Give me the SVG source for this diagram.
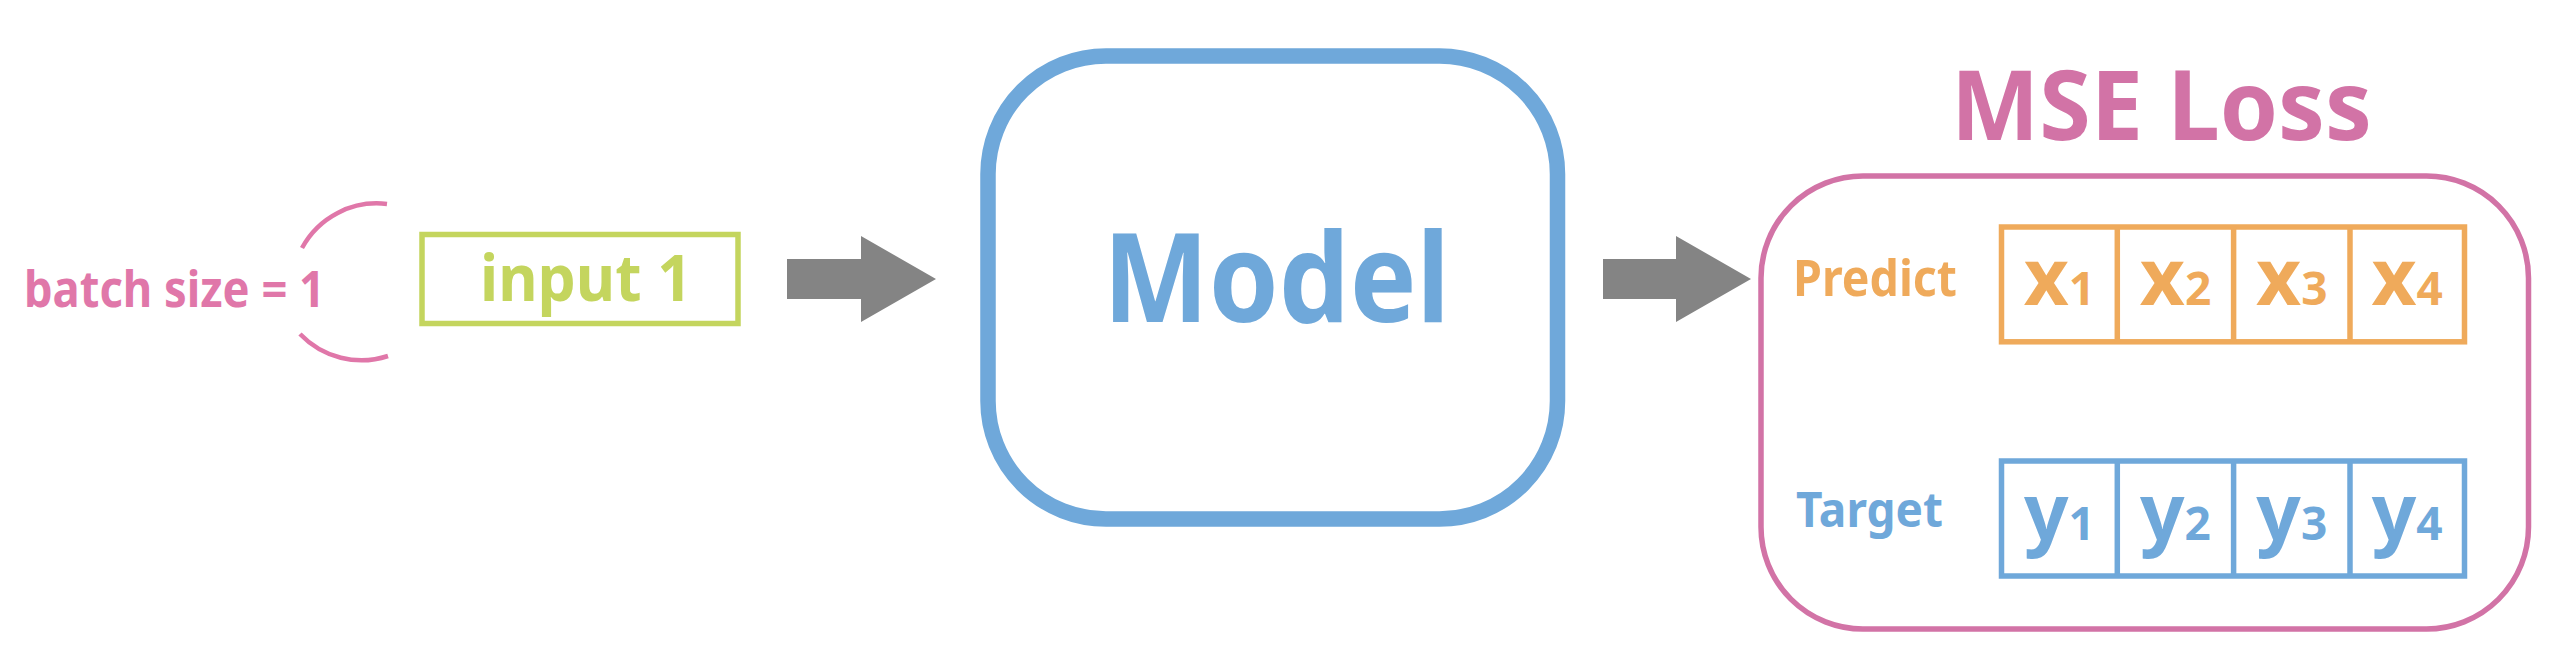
<svg xmlns="http://www.w3.org/2000/svg" width="2550" height="666" viewBox="0 0 2550 666">
<style>
  text { font-family: "Noto Sans", "Open Sans", sans-serif; font-weight: bold; }
  .pink { fill: #E077A9; }
  .green { fill: #C4D55E; }
  .blue { fill: #6FA8DA; }
  .orange { fill: #EFAA5B; }
  .mse { fill: #D273A6; }
  .arrow { fill: #848484; }
  .cellx { font-size: 78px; fill: #EFAA5B; }
  .celly { font-size: 78px; fill: #6FA8DA; }
  .sub { font-size: 46px; }
  .gridx { fill: none; stroke: #EFAA5B; stroke-width: 5.5; }
  .gridy { fill: none; stroke: #6FA8DA; stroke-width: 5.5; }
</style>
<rect width="2550" height="666" fill="#FFFFFF"/>

<g id="batch-label">
  <text x="24" y="307" font-size="50" textLength="301" lengthAdjust="spacingAndGlyphs" class="pink">batch size = 1</text>
  <path d="M302,248 A85,85 0 0 1 387,204" fill="none" stroke="#E077A9" stroke-width="4.5"/>
  <path d="M300,334 A85,85 0 0 0 388,356" fill="none" stroke="#E077A9" stroke-width="4.5"/>
</g>

<g id="input-node">
  <rect x="422" y="234.5" width="316" height="89" fill="none" stroke="#C4D55E" stroke-width="5.5"/>
  <text x="480" y="301" font-size="65" textLength="212" lengthAdjust="spacingAndGlyphs" class="green">input 1</text>
</g>

<g id="model-node">
  <rect x="988" y="56" width="569.5" height="463" rx="118" ry="118" fill="none" stroke="#6FA8DA" stroke-width="15.5"/>
  <text x="1103" y="322" font-size="124" textLength="347" lengthAdjust="spacingAndGlyphs" class="blue">Model</text>
</g>

<g id="loss-node">
  <text x="1951" y="140" font-size="96" textLength="421" lengthAdjust="spacingAndGlyphs" class="mse">MSE Loss</text>
  <rect x="1761" y="176" width="767.5" height="453" rx="102" ry="102" fill="none" stroke="#D273A6" stroke-width="5.5"/>
  <g id="predict-row">
    <text x="1793" y="296" font-size="50" textLength="164" lengthAdjust="spacingAndGlyphs" class="orange">Predict</text>
    <rect class="gridx" x="2001.5" y="227" width="463" height="114.8"/>
    <line class="gridx" x1="2117.3" y1="227" x2="2117.3" y2="341.8"/>
    <line class="gridx" x1="2233.6" y1="227" x2="2233.6" y2="341.8"/>
    <line class="gridx" x1="2350" y1="227" x2="2350" y2="341.8"/>
    <text class="cellx" x="2059.4" y="305" text-anchor="middle">x<tspan class="sub">1</tspan></text>
    <text class="cellx" x="2175.5" y="305" text-anchor="middle">x<tspan class="sub">2</tspan></text>
    <text class="cellx" x="2291.8" y="305" text-anchor="middle">x<tspan class="sub">3</tspan></text>
    <text class="cellx" x="2407.2" y="305" text-anchor="middle">x<tspan class="sub">4</tspan></text>
  </g>
  <g id="target-row">
    <text x="1796" y="527.3" font-size="49" textLength="147" lengthAdjust="spacingAndGlyphs" class="blue">Target</text>
    <rect class="gridy" x="2001.5" y="461" width="463" height="115"/>
    <line class="gridy" x1="2117.3" y1="461" x2="2117.3" y2="576"/>
    <line class="gridy" x1="2233.6" y1="461" x2="2233.6" y2="576"/>
    <line class="gridy" x1="2350" y1="461" x2="2350" y2="576"/>
    <text class="celly" x="2059.4" y="540" text-anchor="middle">y<tspan class="sub">1</tspan></text>
    <text class="celly" x="2175.5" y="540" text-anchor="middle">y<tspan class="sub">2</tspan></text>
    <text class="celly" x="2291.8" y="540" text-anchor="middle">y<tspan class="sub">3</tspan></text>
    <text class="celly" x="2407.2" y="540" text-anchor="middle">y<tspan class="sub">4</tspan></text>
  </g>
</g>

<g id="connectors">
  <polygon class="arrow" points="787,259 861,259 861,236 936,279 861,322 861,299 787,299"/>
  <polygon class="arrow" points="1603,259 1676,259 1676,236 1751,279 1676,322 1676,299 1603,299"/>
</g>
</svg>
